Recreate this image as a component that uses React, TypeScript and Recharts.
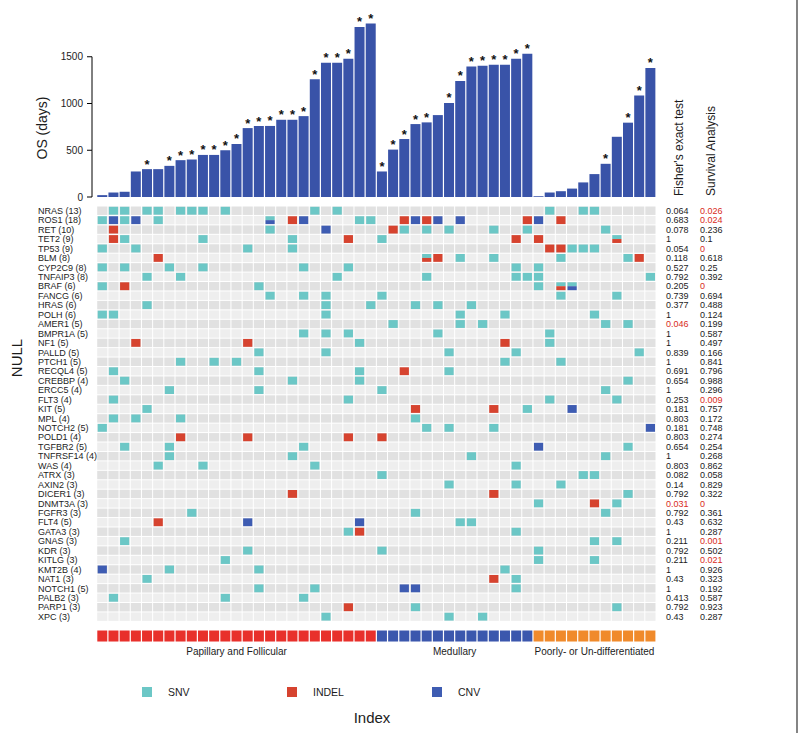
import React from 'react';
import { BarChart, Bar, XAxis, YAxis, LabelList, ScatterChart, Scatter } from 'recharts';

const FONT = '"Liberation Sans", Arial, Helvetica, sans-serif';

// sample groups, in column order
const groupNames = ['Papillary and Follicular', 'Medullary', 'Poorly- or Un-differentiated'];
const groupSizes = [25, 14, 11];
const groupColors = ['#e8302b', '#3b57ad', '#f08a2b'];

// OS (days) per sample
const osDays = [
  20, 48, 56, 273, 298, 298, 333, 394, 401, 450, 450, 500, 567, 737, 759, 760, 826, 826, 865, 1259, 1436, 1436, 1479, 1819, 1855,
  273, 507, 620, 780, 798, 876, 1006, 1241, 1397, 1404, 1415, 1415, 1479, 1532,
  8, 48, 62, 90, 156, 245, 355, 644, 795, 1085, 1380,
];
// 1 = star above the bar
const osStar = [
  0, 0, 0, 0, 1, 0, 1, 1, 1, 1, 1, 1, 1, 1, 1, 1, 1, 1, 1, 1, 1, 1, 1, 1, 1,
  1, 1, 1, 1, 1, 0, 1, 1, 1, 1, 1, 1, 1, 1,
  0, 0, 0, 0, 0, 0, 1, 0, 1, 1, 1,
];

const geneNames = [
  'NRAS', 'ROS1', 'RET', 'TET2', 'TP53', 'BLM', 'CYP2C9', 'TNFAIP3', 'BRAF', 'FANCG', 'HRAS',
  'POLH', 'AMER1', 'BMPR1A', 'NF1', 'PALLD', 'PTCH1', 'RECQL4', 'CREBBP', 'ERCC5', 'FLT3', 'KIT',
  'MPL', 'NOTCH2', 'POLD1', 'TGFBR2', 'TNFRSF14', 'WAS', 'ATRX', 'AXIN2', 'DICER1', 'DNMT3A', 'FGFR3',
  'FLT4', 'GATA3', 'GNAS', 'KDR', 'KITLG', 'KMT2B', 'NAT1', 'NOTCH1', 'PALB2', 'PARP1', 'XPC',
];
const geneCounts = [
  13, 18, 10, 9, 9, 8, 8, 8, 6, 6, 6,
  6, 5, 5, 5, 5, 5, 5, 4, 4, 4, 5,
  4, 5, 4, 5, 4, 4, 3, 3, 3, 3, 3,
  5, 3, 3, 3, 3, 4, 3, 5, 3, 3, 3,
];
const fisherP = [
  0.064, 0.683, 0.078, 1, 0.054, 0.118, 0.527, 0.792, 0.205, 0.739, 0.377,
  1, 0.046, 1, 1, 0.839, 1, 0.691, 0.654, 1, 0.253, 0.181,
  0.803, 0.181, 0.803, 0.654, 1, 0.803, 0.082, 0.14, 0.792, 0.031, 0.792,
  0.43, 1, 0.211, 0.792, 0.211, 1, 0.43, 1, 0.413, 0.792, 0.43,
];
const survivalP = [
  0.026, 0.024, 0.236, 0.1, 0, 0.618, 0.25, 0.392, 0, 0.694, 0.488,
  0.124, 0.199, 0.587, 0.497, 0.166, 0.841, 0.796, 0.988, 0.296, 0.009, 0.757,
  0.172, 0.748, 0.274, 0.254, 0.268, 0.862, 0.058, 0.829, 0.322, 0, 0.361,
  0.632, 0.287, 0.001, 0.502, 0.021, 0.926, 0.323, 0.192, 0.587, 0.923, 0.287,
];

// one string per gene, one char per sample (blocks of 10)
// . none, s SNV, i INDEL, c CNV, x SNV+INDEL, y SNV+CNV
const mutationRows = [
  '.ss.ss.sss .s.......s .s........ .......... s..ss.....', // NRAS
  'scsc.s.... .....y.ic. ...ss..ici c.c.....ic .i........', // ROS1
  '.i........ .....s.... c.....is.s .s...s..s. .....s....', // RET
  '.is......s .......s.. ..i..s.... .......i.i ......x...', // TET2
  's..s...... ...s...s.. .......... .......... iisss.....', // TP53
  '.....i.... .......... .........x i.s..s.... .s.....si.', // BLM
  's.s...s..s ........s. ..s....... .......s.s ..........', // CYP2C9
  '....s..s.. .......... .s.......s .......sss .........s', // TNFAIP3
  's.i....... ....s..... .......... .........s .xy.......', // BRAF
  '.......... .....s..s. s....s.... .......... .s....s...', // FANCG
  '....s..... .......... s...s...s. s..s...... ..........', // HRAS
  'ss........ .......... s......... ..s...s... ....s.....', // POLH
  '.......... .......... ......s... ..s.s..... .....s.s..', // AMER1
  '.......... ........s. s.s....... s......... s.........', // BMPR1A
  '...i...... ...i...... ...s...... ......i... s.........', // NF1
  '.......... ....s..... s......... .s.....s.. ........s.', // PALLD
  '.......s.. s.s....... .......... ......s... .s........', // PTCH1
  '.s........ ....s..... ...s...i.. .s........ ..........', // RECQL4
  '..s....... .......s.. ...s...... .......... .......s..', // CREBBP
  '......s... ....s..... .....s.... .......... .....s....', // ERCC5
  '.s........ .......... ..s....... .......... s.....s...', // FLT3
  '....s..... .......... ........i. .....i..s. ..c.......', // KIT
  '.s.s...s.. .......... ........s. .......... ..........', // MPL
  's......... .......... .........s .s...s.... .........c', // NOTCH2
  '.......i.. ...i...... ..i..i.... .......... ..........', // POLD1
  '..s...s... ........s. .......... .........c .......s..', // TGFBR2
  '......s... .......s.. .......... ...s...... .....s....', // TNFRSF14
  '.....s...s .........s .......... .......s.. ..........', // WAS
  '.......... .......... .....s.... .......... ...ss.....', // ATRX
  '.......... .......... .......... .s.....s.. .s........', // AXIN2
  '.......... .......i.. .......... .....i.... .......s..', // DICER1
  '.......... .......... .......... .........s ....i.s...', // DNMT3A
  '........s. .......... ........s. .......... .....s....', // FGFR3
  '.....i.... ...c...... ...c...... ..ss...... ..........', // FLT4
  '.......... .......... ..si...... .......s.. ..........', // GATA3
  '..s....... .......... .......... .......... ....s.s...', // GNAS
  '.......... ...s...... .....s.... .........s ..........', // KDR
  '.......... .s........ .......... .........s ....s.....', // KITLG
  'c.....s... ....s..... .......... ......s... ..........', // KMT2B
  '....s..... .......... .......... .....i.s.. ..........', // NAT1
  '.......... ....s....s .......cc. .......s.. ..........', // NOTCH1
  '.s........ .s......s. .......... .......... ..........', // PALB2
  '.......... .......... ..i.....s. .......... ......s...', // PARP1
  '.......... .......... s......... .s..s..... ..........', // XPC
];

const legendItems = [
  { label: 'SNV', code: 's' },
  { label: 'INDEL', code: 'i' },
  { label: 'CNV', code: 'c' },
];

const typeColors: Record<string, string> = { s: '#6cc7c6', i: '#d6432f', c: '#3e5cb2' };

// layout
const W = 800;
const H = 733;
const TOP_H = 208;
const TOP_MARGIN = { top: 10, right: 144, bottom: 11, left: 30 };
const Y_MAX = 2000;
const AXIS_X = 92;
const TOP_PLOT_H = TOP_H - TOP_MARGIN.top - TOP_MARGIN.bottom;
const TICK_STEP = (TOP_PLOT_H * 500) / Y_MAX;

const HM_TOP = 200;
const HM_H = H - HM_TOP;
const HM_MARGIN = { top: 6, right: 144, bottom: 63.3, left: 36.7 };
const HM_XAXIS_H = 20;
const N_SAMPLES = osDays.length;
const ROW_MAX = 46.5;
const COL_W = (W - HM_MARGIN.right - HM_MARGIN.left - 60) / N_SAMPLES;
const ROW_H = (HM_H - HM_MARGIN.top - HM_MARGIN.bottom - HM_XAXIS_H) / (ROW_MAX + 0.5);
const GROUP_ROW = 45.05;

const GENE_X = 38;
const FISHER_X = 666;
const SURV_X = 700;
const RED = '#d92b22';
const INK = '#1c1c1c';

const sampleGroup: number[] = groupSizes.flatMap((n, g) => Array(n).fill(g));
const groupStarts = groupSizes.map((_, g) => groupSizes.slice(0, g).reduce((a, b) => a + b, 0));
const groupCenters = groupSizes.map((n, g) => groupStarts[g] + (n - 1) / 2);

const barData = osDays.map((v, i) => ({ id: i, os: v, star: osStar[i] }));
const cells = mutationRows.flatMap((row, g) =>
  row.replace(/ /g, '').split('').map((code, s) => ({ x: s, y: g, code }))
);
const groupCells = sampleGroup.map((g, s) => ({ x: s, y: GROUP_ROW, g }));
const geneTicks = geneNames.map((_, i) => i);

const OsTick = (props: any) => {
  const { y, payload } = props;
  const v = payload.value;
  return (
    <g>
      <line x1={AXIS_X - 5} x2={AXIS_X} y1={y} y2={y} stroke="#000" strokeWidth={1} />
      {v < 1500 && <line x1={AXIS_X} x2={AXIS_X} y1={y} y2={y - TICK_STEP} stroke="#000" strokeWidth={1} />}
      <text x={AXIS_X - 9} y={y} dy={3.5} textAnchor="end" fontSize={10} fontFamily={FONT} fill={INK}>
        {v}
      </text>
    </g>
  );
};

const StarLabel = (props: any) => {
  const { x, y, width, value } = props;
  if (!value) return null;
  return (
    <text x={x + width / 2} y={y - 0.5} textAnchor="middle" fontSize={13} fontWeight="bold" fontFamily={FONT} fill="#111">
      *
    </text>
  );
};

const CellShape = (props: any) => {
  const { cx, cy, payload } = props;
  const bg = payload.y % 2 === 0 ? '#e1e1e1' : '#eeeeee';
  const bw = COL_W - 1;
  const bh = ROW_H - 1;
  const mw = COL_W - 2;
  const mh = ROW_H - 1.6;
  const code = payload.code;
  let mark = null;
  if (code === 's' || code === 'i' || code === 'c') {
    mark = <rect x={cx - mw / 2} y={cy - mh / 2} width={mw} height={mh} fill={typeColors[code]} />;
  } else if (code === 'x' || code === 'y') {
    const other = code === 'x' ? typeColors.i : typeColors.c;
    mark = (
      <g>
        <rect x={cx - mw / 2} y={cy - mh / 2} width={mw} height={mh * 0.5} fill={typeColors.s} />
        <rect x={cx - mw / 2} y={cy} width={mw} height={mh * 0.5} fill={other} />
      </g>
    );
  }
  return (
    <g>
      <rect x={cx - bw / 2} y={cy - bh / 2} width={bw} height={bh} fill={bg} />
      {mark}
    </g>
  );
};

const GroupShape = (props: any) => {
  const { cx, cy, payload } = props;
  const w = COL_W - 1.2;
  const h = 11;
  return <rect x={cx - w / 2} y={cy - h / 2} width={w} height={h} fill={groupColors[payload.g]} />;
};

const GeneTick = (props: any) => {
  const { y, payload } = props;
  const i = payload.value;
  return (
    <g fontFamily={FONT} fontSize={9}>
      <text x={GENE_X} y={y} dy={3.2} fill={INK}>{`${geneNames[i]} (${geneCounts[i]})`}</text>
      <text x={FISHER_X} y={y} dy={3.2} fill={fisherP[i] < 0.05 ? RED : INK}>{String(fisherP[i])}</text>
      <text x={SURV_X} y={y} dy={3.2} fill={survivalP[i] < 0.05 ? RED : INK}>{String(survivalP[i])}</text>
    </g>
  );
};

const GroupTick = (props: any) => {
  const { x, y, payload } = props;
  const g = groupCenters.indexOf(payload.value);
  return (
    <text x={x} y={y} dy={5} textAnchor="middle" fontSize={10} fontFamily={FONT} fill={INK}>
      {groupNames[g]}
    </text>
  );
};

const App = () => {
  return (
    <div style={{ position: 'relative', width: W, height: H, background: '#fff', fontFamily: FONT }}>
      <style>{'body{margin:0}'}</style>
      <div style={{ position: 'absolute', left: 0, top: 0 }}>
        <BarChart width={W} height={TOP_H} data={barData} margin={TOP_MARGIN} barCategoryGap="5%">
          <XAxis dataKey="id" type="category" hide />
          <YAxis
            domain={[0, Y_MAX]}
            ticks={[0, 500, 1000, 1500]}
            interval={0}
            width={66.7}
            axisLine={false}
            tickLine={false}
            tick={OsTick}
          />
          <Bar dataKey="os" fill="#3953a8" isAnimationActive={false}>
            <LabelList dataKey="star" content={StarLabel} />
          </Bar>
        </BarChart>
      </div>
      <div style={{ position: 'absolute', left: 0, top: HM_TOP }}>
        <ScatterChart width={W} height={HM_H} margin={HM_MARGIN}>
          <XAxis
            type="number"
            dataKey="x"
            domain={[-0.5, N_SAMPLES - 0.5]}
            ticks={groupCenters}
            interval={0}
            height={HM_XAXIS_H}
            axisLine={false}
            tickLine={false}
            tickSize={0}
            tickMargin={0}
            tick={GroupTick}
          />
          <YAxis
            yAxisId="genes"
            type="number"
            dataKey="y"
            domain={[-0.5, ROW_MAX]}
            reversed
            ticks={geneTicks}
            interval={0}
            width={60}
            axisLine={false}
            tickLine={false}
            tick={GeneTick}
          />
          <Scatter yAxisId="genes" data={cells} shape={CellShape} isAnimationActive={false} />
          <Scatter yAxisId="genes" data={groupCells} shape={GroupShape} isAnimationActive={false} />
        </ScatterChart>
      </div>
      <svg width={W} height={H} style={{ position: 'absolute', left: 0, top: 0, pointerEvents: 'none' }} fontFamily={FONT}>
        <text transform="translate(47,128) rotate(-90)" textAnchor="middle" fontSize={14} fill={INK}>
          OS (days)
        </text>
        <text transform="translate(683,196) rotate(-90)" fontSize={12} fill={INK}>
          Fisher's exact test
        </text>
        <text transform="translate(715,196) rotate(-90)" fontSize={12} fill={INK}>
          Survival Analysis
        </text>
        <text transform="translate(22,358) rotate(-90)" textAnchor="middle" fontSize={15} fill={INK}>
          NULL
        </text>
        {legendItems.map((it, k) => (
          <g key={it.label}>
            <rect x={142 + k * 145} y={687} width={10} height={10} fill={typeColors[it.code]} />
            <text x={168 + k * 145} y={696} fontSize={10.5} fill={INK}>
              {it.label}
            </text>
          </g>
        ))}
        <text x={372} y={723} textAnchor="middle" fontSize={15} fill={INK}>
          Index
        </text>
        <line x1={797} x2={797} y1={0} y2={H} stroke="#333" strokeWidth={1.2} />
      </svg>
    </div>
  );
};

export default App;
